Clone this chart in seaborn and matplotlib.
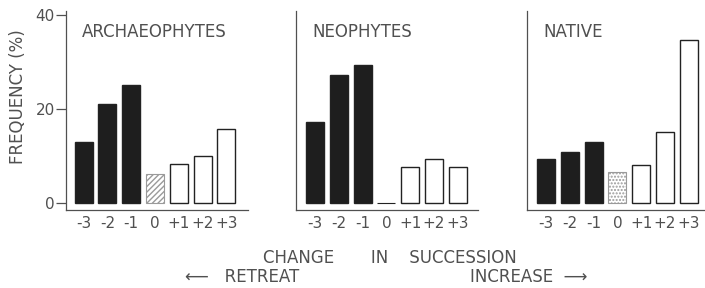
import pandas as pd
import seaborn as sns
import matplotlib.pyplot as plt

# values
changes = ['-3', '-2', '-1', '0', '+1', '+2', '+3']
archaeophytes = [13, 21, 25, 6.2, 8.2, 10, 15.8]
neophytes = [17.3, 27.2, 29.3, 0, 7.6, 9.3, 7.7]
native = [9.3, 10.9, 13, 6.5, 8, 15.2, 34.6]
groups = ['ARCHAEOPHYTES', 'NEOPHYTES', 'NATIVE']

df = pd.DataFrame({
    'group': [g for g in groups for _ in changes],
    'change': changes * 3,
    'freq': archaeophytes + neophytes + native,
})

sns.set_style('white')
plt.rcParams['font.family'] = ['DejaVu Sans']
ink = '#505050'

fig = plt.figure(figsize=(7.05, 2.88), dpi=100)
W, H = 705, 288
ylo, yhi = -1.5, 40.8
ppu = 4.7
bottom = 78
height = (yhi - ylo) * ppu

# left spine pixel, xlim per panel, hatch for the "0" bar
panels = [
    (66, (-0.74, 6.92), '//////'),
    (296, (-0.8, 6.85), '//////'),
    (527, (-0.8, 6.7), '.....'),
]

for g, (left, xlim, hatch) in zip(groups, panels):
    width = (xlim[1] - xlim[0]) * 23.8
    ax = fig.add_axes([left / W, bottom / H, width / W, height / H])
    sub = df[df['group'] == g]
    sns.barplot(data=sub, x='change', y='freq', order=changes, ax=ax,
                color='white', edgecolor='#222222', linewidth=1.0,
                width=0.76, errorbar=None)
    for i, p in enumerate(ax.patches):
        if i < 3:
            p.set_facecolor('#1e1e1e')
        elif i == 3:
            p.set_facecolor('white')
            p.set_hatch(hatch)
            p.set_edgecolor('#9a9a9a')
            p.set_linewidth(0.8)
            if sub['freq'].iloc[3] == 0:
                p.set_edgecolor('#222222')
    ax.set_xlim(*xlim)
    ax.set_ylim(ylo, yhi)
    ax.set_xlabel('')
    ax.set_ylabel('')
    for s in ['top', 'right']:
        ax.spines[s].set_visible(False)
    for s in ['left', 'bottom']:
        ax.spines[s].set_color(ink)
        ax.spines[s].set_linewidth(0.9)
    ax.tick_params(axis='x', length=0, pad=4, labelsize=11, labelcolor=ink)
    if left == 66:
        ax.set_yticks([0, 20, 40])
        ax.tick_params(axis='y', left=True, length=7, width=0.9, color=ink,
                       direction='out', pad=1, labelsize=11, labelcolor=ink)
    else:
        ax.set_yticks([])
    ax.text(16 / width, 0.895, g, transform=ax.transAxes, fontsize=12,
            color=ink, va='center', ha='left')

fig.text(18 / W, 1 - 97 / H, 'FREQUENCY (%)', rotation=90, ha='center',
         va='center', fontsize=12, color=ink)
fig.text(390 / W, 1 - 258 / H, 'CHANGE       IN    SUCCESSION', ha='center',
         va='center', fontsize=12, color=ink)
fig.text(185 / W, 1.5 / H, '\u27f5   RETREAT', ha='left', va='bottom',
         fontsize=12, color=ink)
fig.text(587 / W, 1.5 / H, 'INCREASE  \u27f6', ha='right', va='bottom',
         fontsize=12, color=ink)

fig.savefig('out.png', dpi=100, facecolor='white')
